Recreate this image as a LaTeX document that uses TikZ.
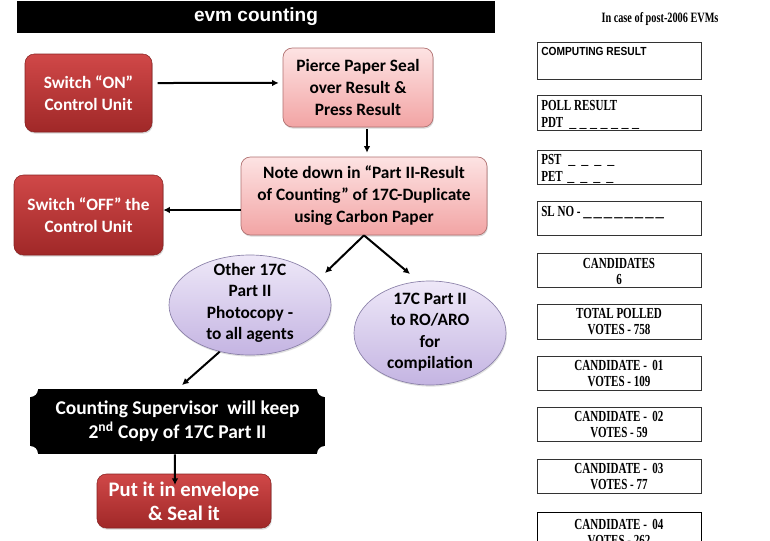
\documentclass[tikz,border=0pt]{standalone}
\usepackage{fontspec}
\setmainfont{Carlito}
\newfontfamily\rserif[FakeStretch=0.72]{Liberation Serif}
\newfontfamily\rserifw{Liberation Serif}
\newfontfamily\rsans[FakeStretch=0.87]{Liberation Sans}
\newfontfamily\tsans{Liberation Sans}
\usetikzlibrary{shapes.geometric,arrows.meta,shadows,calc}
\definecolor{redtop}{HTML}{D04848}
\definecolor{redbot}{HTML}{A02828}
\definecolor{pinktop}{HTML}{FDE3E3}
\definecolor{pinkbot}{HTML}{F2A4A4}
\definecolor{pinkline}{HTML}{B07070}
\definecolor{lavtop}{HTML}{EEE8F8}
\definecolor{lavbot}{HTML}{C4B4E2}
\definecolor{lavline}{HTML}{8A80A8}
\begin{document}
\begin{tikzpicture}[x=0.75pt,y=-0.75pt,
  flowfont/.style={font=\bfseries\fontsize{13pt}{16.5pt}\selectfont},
  redbox/.style={rectangle, rounded corners=7pt, top color=redtop, bottom color=redbot,
    draw=redbot!85!black, line width=0.4pt, text=white, align=center, inner sep=2pt,
    drop shadow={opacity=0.3,shadow xshift=0.6pt,shadow yshift=-1.2pt}},
  pinkbox/.style={rectangle, rounded corners=7pt, top color=pinktop, bottom color=pinkbot,
    draw=pinkline, line width=0.5pt, text=black, align=center, inner sep=2pt, flowfont,
    drop shadow={opacity=0.3,shadow xshift=0.6pt,shadow yshift=-1.2pt}},
  oval/.style={ellipse, top color=lavtop, bottom color=lavbot, draw=lavline, line width=0.5pt,
    inner sep=0pt, drop shadow={opacity=0.25,shadow xshift=0.6pt,shadow yshift=-1.2pt}},
  ovaltext/.style={align=center, inner sep=0pt, font=\bfseries\fontsize{13pt}{16.1pt}\selectfont},
  arr/.style={line width=1.5pt, -{Latex[length=5pt,width=5pt]}},
  rbox/.style={draw=black!80, line width=0.6pt, fill=white, minimum width=123pt, inner sep=0pt},
  rtxt/.style={inner sep=0pt, align=center, font=\rserif\bfseries\fontsize{11.5pt}{12pt}\selectfont},
  blank/.style={inner sep=0pt, font=\rserifw\bfseries\fontsize{10.5pt}{12pt}\selectfont},
]
\useasboundingbox (0,0) rectangle (770,540);
\fill[white] (0,0) rectangle (770,540);
\begin{scope}
\clip (0,0) rectangle (770,540);

% title
\node[fill=black, minimum width=358.5pt, minimum height=24.25pt, inner sep=0pt,
  text=white, font=\tsans\bfseries\fontsize{14.3pt}{16pt}\selectfont] (title) at (256,16.8) {evm counting};

% flow nodes
\node[redbox, flowfont, minimum width=95.25pt, minimum height=58.5pt] (on) at (88.5,93)
  {Switch “ON”\\Control Unit};
\node[pinkbox, minimum width=112.5pt, minimum height=59.25pt] (pierce) at (358,87.5)
  {Pierce Paper Seal\\over Result \&\\Press Result};
\node[pinkbox, minimum width=184.5pt, minimum height=58.5pt] (note) at (364,196)
  {Note down in “Part II-Result\\of Counting” of 17C-Duplicate\\using Carbon Paper};
\node[redbox, flowfont, minimum width=111.75pt, minimum height=60pt] (off) at (88.5,215)
  {Switch “OFF” the\\Control Unit};

\node[oval, minimum width=121.5pt, minimum height=75pt] (other) at (250,305) {};
\node[ovaltext] (othert) at (250,303) {Other 17C\\Part II\\Photocopy -\\to all agents};
\node[oval, minimum width=114pt, minimum height=78pt] (ro) at (430,333) {};
\node[ovaltext] (rot) at (430,332) {17C Part II\\to RO/ARO\\for\\compilation};

\node[fill=black, minimum width=221.25pt, minimum height=48.75pt, inner sep=0pt, text=white,
  align=center, font=\bfseries\fontsize{14.6pt}{18pt}\selectfont,
  path picture={
    \fill[white] (path picture bounding box.north west) circle (6pt);
    \fill[white] (path picture bounding box.north east) circle (6pt);
    \fill[white] (path picture bounding box.south west) circle (6pt);
    \fill[white] (path picture bounding box.south east) circle (6pt);
  }] (plaque) at (177.5,421.5)
  {Counting Supervisor\ \ will keep\\2\textsuperscript{nd} Copy of 17C Part II};

\node[redbox, minimum width=130.5pt, minimum height=40.5pt,
  font=\bfseries\fontsize{15.5pt}{18pt}\selectfont] (env) at (184,501)
  {Put it in envelope\\\& Seal it};

% connectors
\coordinate (t1) at (325,273);
\coordinate (t2) at (410,274);
\coordinate (t3) at (182,385);
\coordinate (t4) at (175,485);
\draw[arr, shorten <=4pt, shorten >=3pt] ([yshift=7.5pt]on.east) -- ([yshift=3.4pt]pierce.west);
\draw[arr, shorten <=1.5pt, shorten >=3pt] ([xshift=6.75pt]pierce.south) -- ([xshift=6.75pt]pierce.south |- note.north);
\draw[arr] ([yshift=-10.5pt]note.west) -- ([yshift=3.75pt]off.east);
\draw[arr] (note.south) -- (t1);
\draw[arr] (note.south) -- (t2);
\draw[arr] (other.237) -- (t3);
\draw[arr] ([xshift=-1.9pt]plaque.south) -- (t4);

% right panel
\node[anchor=base, inner sep=0pt, font=\rserif\bfseries\fontsize{10.7pt}{12pt}\selectfont] (head) at (660,22.7)
  {In case of post-2006 EVMs};

\node[rbox, minimum height=27.75pt] (b1) at (619,60.5) {};
\node[anchor=base west, inner sep=0pt, font=\rsans\bfseries\fontsize{8.8pt}{10pt}\selectfont] (b1a) at (541,55) {COMPUTING RESULT};

\node[rbox, minimum height=26.25pt] (b2) at (619,112.5) {};
\node[rtxt, anchor=base west] (b2a) at (541,110) {POLL RESULT};
\node[rtxt, anchor=base west] (b2b) at (541,127) {PDT};
\node[blank, anchor=base west] (b2c) at (569,127)
  {\_\hspace{2.6pt}\_\hspace{2.6pt}\_\hspace{2.6pt}\_\hspace{2.6pt}\_\hspace{2.6pt}\_\hspace{2.6pt}\_};

\node[rbox, minimum height=25.5pt] (b3) at (619,167) {};
\node[rtxt, anchor=base west] (b3a) at (541,164) {PST};
\node[blank, anchor=base west] (b3b) at (568,164)
  {\_\hspace{4.5pt}\_\hspace{4.5pt}\_\hspace{4.5pt}\_};
\node[rtxt, anchor=base west] (b3c) at (541,181.5) {PET};
\node[blank, anchor=base west] (b3d) at (567,181.5)
  {\_\hspace{4.5pt}\_\hspace{4.5pt}\_\hspace{4.5pt}\_};

\node[rbox, minimum height=25.5pt] (b4) at (619,218) {};
\node[rtxt, anchor=base west] (b4a) at (541,216) {SL NO -};
\node[blank, anchor=base west, font=\rserifw\bfseries\fontsize{12.5pt}{12pt}\selectfont] (b4b) at (583,216)
  {\_\hspace{1.5pt}\_\hspace{1.5pt}\_\hspace{1.5pt}\_\hspace{1.5pt}\_\hspace{1.5pt}\_\hspace{1.5pt}\_\hspace{1.5pt}\_};

\node[rbox, minimum height=25.5pt] (b5) at (619,270) {};
\node[rtxt] (b5t) at (619,271) {CANDIDATES\\6};
\node[rbox, minimum height=26.25pt] (b6) at (619,321.5) {};
\node[rtxt] (b6t) at (619,322) {TOTAL POLLED\\VOTES - 758};
\node[rbox, minimum height=25.5pt] (b7) at (619,373) {};
\node[rtxt] (b7t) at (619,373.5) {CANDIDATE -\ \ 01\\VOTES - 109};
\node[rbox, minimum height=25.5pt] (b8) at (619,424) {};
\node[rtxt] (b8t) at (619,424.5) {CANDIDATE -\ \ 02\\VOTES - 59};
\node[rbox, minimum height=25.5pt] (b9) at (619,476) {};
\node[rtxt] (b9t) at (619,476.5) {CANDIDATE -\ \ 03\\VOTES - 77};
\node[rbox, minimum height=30pt, draw=black] (b10) at (619,532) {};
\node[rtxt] (b10t) at (619,533) {CANDIDATE -\ \ 04\\VOTES - 262};
\end{scope}
\end{tikzpicture}
\end{document}
